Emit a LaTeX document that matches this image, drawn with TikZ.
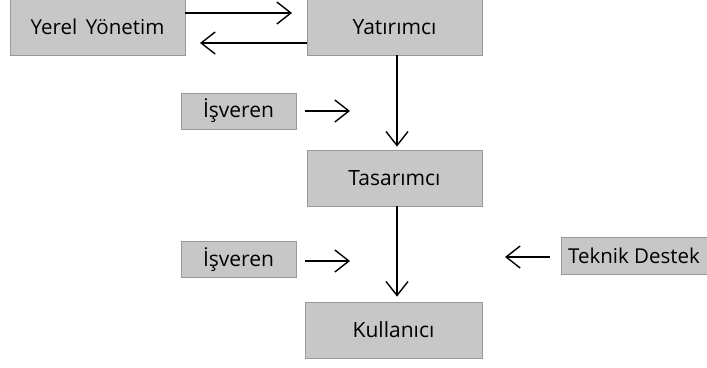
\documentclass[tikz,border=0pt]{standalone}
\usepackage{fontspec}
\setmainfont{Open Sans}
\usetikzlibrary{arrows.meta}

\tikzset{
  yazi/.style={font=\fontsize{#1pt}{#1pt}\selectfont},
  kutu/.style={draw=black!40, fill=black!22, line width=0.8pt, inner sep=0pt, yazi=21},
  buyuk/.style={kutu, minimum width=175pt, minimum height=56pt},
  kucuk/.style={kutu, minimum width=115pt, minimum height=36pt},
  ok/.style={line width=1.4pt, -{Straight Barb[length=14pt, width=22pt, line width=1.4pt]}}
}

\begin{document}
\begin{tikzpicture}[x=1pt, y=-1pt]
\useasboundingbox (0,0) rectangle (707,367);

% kutular
\node[buyuk, yazi=20.5] (yerel) at (97.5,27) {Yerel\, Yönetim};
\node[buyuk] (yatirimci) at (394.5,27) {Yatırımcı};
\node[buyuk] (tasarimci) at (394.5,178) {Tasarımcı};
\node[buyuk, minimum width=177pt] (kullanici) at (393.5,330) {Kullanıcı};
\node[kucuk] (isveren1) at (238.5,111) {İşveren};
\node[kucuk] (isveren2) at (238.5,259.5) {İşveren};
\node[kucuk, minimum width=146pt, minimum height=37pt, yazi=20.5] (teknik) at (634,255.5) {Teknik Destek};

% serbest uclar
\coordinate (yerelUc) at (292,13);
\coordinate (yerelBas) at (185,13);
\coordinate (yatUc) at (200,43);
\coordinate (yatBas) at (307,43);
\coordinate (isv1Bas) at (305,111);
\coordinate (isv1Uc) at (350,111);
\coordinate (isv2Bas) at (305,261);
\coordinate (isv2Uc) at (350,261);
\coordinate (tekBas) at (550,257);
\coordinate (tekUc) at (505,257);

% oklar
\draw[ok] (yerelBas) -- (yerelUc);
\draw[ok] (yatBas) -- (yatUc);
\draw[ok] ([xshift=2.5pt]yatirimci.south) -- ([xshift=2.5pt, yshift=3pt]tasarimci.north);
\draw[ok] ([xshift=2.5pt]tasarimci.south) -- ([xshift=3.5pt, yshift=5pt]kullanici.north);
\draw[ok] (isv1Bas) -- (isv1Uc);
\draw[ok] (isv2Bas) -- (isv2Uc);
\draw[ok] (tekBas) -- (tekUc);
\end{tikzpicture}
\end{document}
